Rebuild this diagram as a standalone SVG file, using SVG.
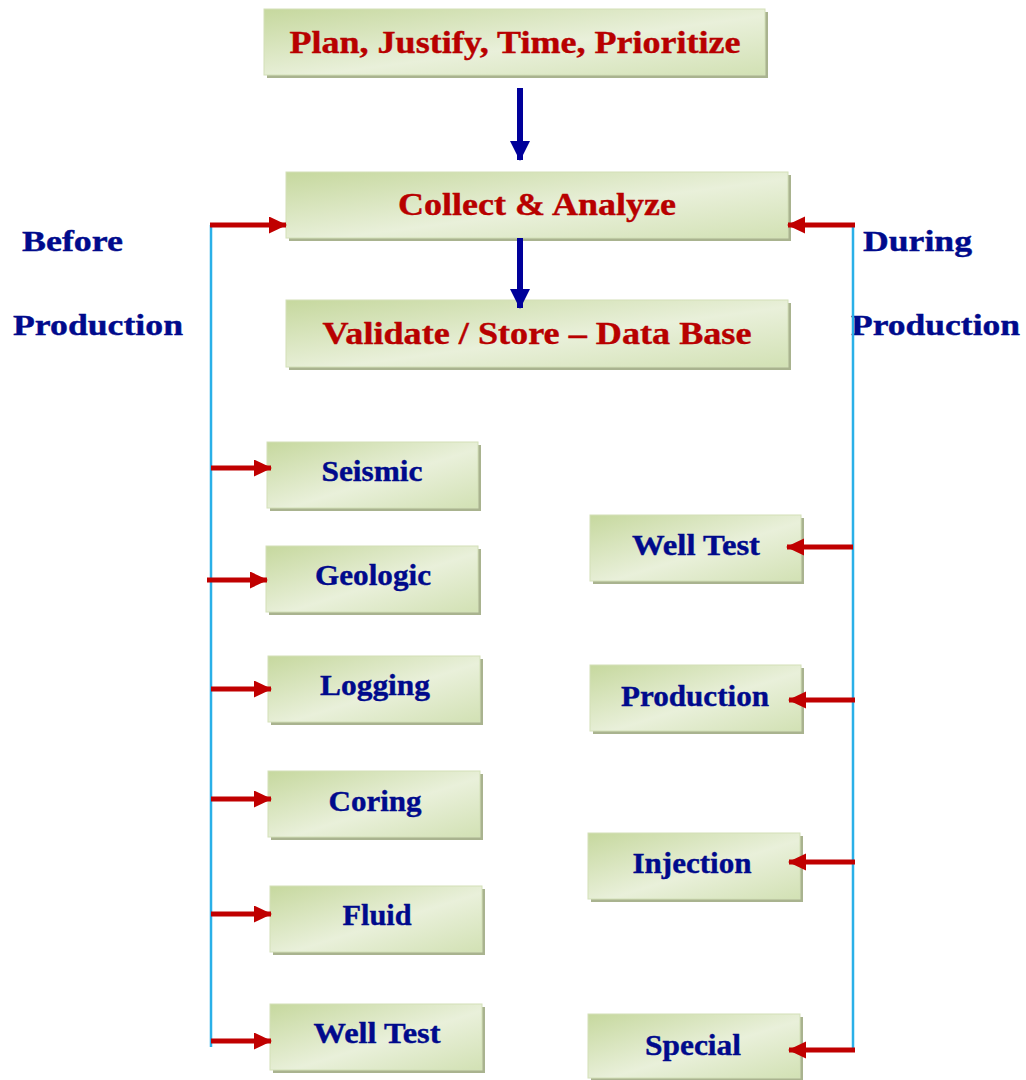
<svg xmlns="http://www.w3.org/2000/svg" width="1026" height="1080" viewBox="0 0 1026 1080">
<style>
.box{fill:url(#g);stroke:#d3e0b8;stroke-width:1}
.sh{fill:#a9b38f}
.t1{font-family:"Liberation Serif","Times New Roman",serif;font-weight:bold;font-size:32px;fill:#b80000;text-anchor:middle;stroke:#b80000;stroke-width:0.4}
.t2{font-family:"Liberation Serif","Times New Roman",serif;font-weight:bold;font-size:30px;fill:#000a8c;text-anchor:middle;stroke:#000a8c;stroke-width:0.4}
.lbl{font-family:"Liberation Serif","Times New Roman",serif;font-weight:bold;font-size:30px;fill:#000a8c;stroke:#000a8c;stroke-width:0.4}
.red{stroke:#c00000;stroke-width:5;fill:none;marker-end:url(#ra)}
.blue{stroke:#00009a;stroke-width:6;fill:none;marker-end:url(#ba)}
.cy{stroke:#2ab0e8;stroke-width:2.5;fill:none}
</style>
<defs>
<linearGradient id="g" x1="0" y1="0" x2="1" y2="1">
<stop offset="0" stop-color="#c6d89e"/>
<stop offset="0.55" stop-color="#e9f0da"/>
<stop offset="1" stop-color="#d2e1b4"/>
</linearGradient>
<marker id="ra" markerUnits="userSpaceOnUse" markerWidth="20" markerHeight="20" refX="17" refY="8.5" orient="auto"><path d="M0,0 L18,8.5 L0,17 Z" fill="#c00000"/></marker>
<marker id="ba" markerUnits="userSpaceOnUse" markerWidth="22" markerHeight="22" refX="19" refY="10" orient="auto"><path d="M0,0 L20,10 L0,20 Z" fill="#00009a"/></marker>
</defs>
<rect width="1026" height="1080" fill="#ffffff"/>
<g id="n-plan"><rect class="sh" x="267" y="12" width="501" height="66"/><rect class="box" x="264" y="9" width="501" height="66"/><text class="t1" x="515" y="53" textLength="451" lengthAdjust="spacingAndGlyphs">Plan, Justify, Time, Prioritize</text></g>
<g id="n-collect"><rect class="sh" x="289" y="175" width="502" height="66"/><rect class="box" x="286" y="172" width="502" height="66"/><text class="t1" x="537" y="215" textLength="278" lengthAdjust="spacingAndGlyphs">Collect &amp; Analyze</text></g>
<g id="n-validate"><rect class="sh" x="289" y="303" width="502" height="67"/><rect class="box" x="286" y="300" width="502" height="67"/><text class="t1" x="537" y="344" textLength="429" lengthAdjust="spacingAndGlyphs">Validate / Store – Data Base</text></g>
<g id="lbl-before"><text class="lbl" x="22" y="251" textLength="101" lengthAdjust="spacingAndGlyphs">Before</text><text class="lbl" x="13" y="335" textLength="170" lengthAdjust="spacingAndGlyphs">Production</text></g>
<g id="lbl-during"><text class="lbl" x="863" y="251" textLength="109" lengthAdjust="spacingAndGlyphs">During</text><text class="lbl" x="851" y="335" textLength="169" lengthAdjust="spacingAndGlyphs">Production</text></g>
<g id="n-seismic"><rect class="sh" x="270" y="445" width="211" height="66"/><rect class="box" x="267" y="442" width="211" height="66"/><text class="t2" x="372" y="481" textLength="101" lengthAdjust="spacingAndGlyphs">Seismic</text></g>
<g id="n-geologic"><rect class="sh" x="269" y="549" width="212" height="66"/><rect class="box" x="266" y="546" width="212" height="66"/><text class="t2" x="373" y="585" textLength="116" lengthAdjust="spacingAndGlyphs">Geologic</text></g>
<g id="n-logging"><rect class="sh" x="271" y="659" width="212" height="66"/><rect class="box" x="268" y="656" width="212" height="66"/><text class="t2" x="375" y="695" textLength="110" lengthAdjust="spacingAndGlyphs">Logging</text></g>
<g id="n-coring"><rect class="sh" x="271" y="774" width="212" height="66"/><rect class="box" x="268" y="771" width="212" height="66"/><text class="t2" x="375" y="811" textLength="93" lengthAdjust="spacingAndGlyphs">Coring</text></g>
<g id="n-fluid"><rect class="sh" x="273" y="889" width="212" height="66"/><rect class="box" x="270" y="886" width="212" height="66"/><text class="t2" x="377" y="925" textLength="69" lengthAdjust="spacingAndGlyphs">Fluid</text></g>
<g id="n-welltest-l"><rect class="sh" x="273" y="1007" width="212" height="66"/><rect class="box" x="270" y="1004" width="212" height="66"/><text class="t2" x="377" y="1043" textLength="127" lengthAdjust="spacingAndGlyphs">Well Test</text></g>
<g id="n-welltest-r"><rect class="sh" x="593" y="518" width="211" height="66"/><rect class="box" x="590" y="515" width="211" height="66"/><text class="t2" x="696" y="555" textLength="128" lengthAdjust="spacingAndGlyphs">Well Test</text></g>
<g id="n-production"><rect class="sh" x="593" y="668" width="211" height="66"/><rect class="box" x="590" y="665" width="211" height="66"/><text class="t2" x="695" y="706" textLength="148" lengthAdjust="spacingAndGlyphs">Production</text></g>
<g id="n-injection"><rect class="sh" x="591" y="836" width="212" height="66"/><rect class="box" x="588" y="833" width="212" height="66"/><text class="t2" x="692" y="873" textLength="119" lengthAdjust="spacingAndGlyphs">Injection</text></g>
<g id="n-special"><rect class="sh" x="591" y="1017" width="212" height="65"/><rect class="box" x="588" y="1014" width="212" height="64"/><text class="t2" x="693" y="1055" textLength="96" lengthAdjust="spacingAndGlyphs">Special</text></g>
<g id="connectors">
<line class="cy" x1="211" y1="225" x2="211" y2="1047"/>
<line class="cy" x1="853" y1="225" x2="853" y2="1050"/>
<line class="blue" x1="520" y1="88" x2="520" y2="160"/>
<line class="blue" x1="520" y1="238" x2="520" y2="308"/>
<line class="red" x1="210" y1="225" x2="286" y2="225"/>
<line class="red" x1="855" y1="225" x2="788" y2="225"/>
<line class="red" x1="211" y1="468" x2="271" y2="468"/>
<line class="red" x1="207" y1="580" x2="267" y2="580"/>
<line class="red" x1="211" y1="689" x2="271" y2="689"/>
<line class="red" x1="211" y1="799" x2="271" y2="799"/>
<line class="red" x1="211" y1="914" x2="271" y2="914"/>
<line class="red" x1="211" y1="1041" x2="271" y2="1041"/>
<line class="red" x1="853" y1="547" x2="787" y2="547"/>
<line class="red" x1="855" y1="700" x2="789" y2="700"/>
<line class="red" x1="855" y1="862" x2="789" y2="862"/>
<line class="red" x1="855" y1="1050" x2="789" y2="1050"/>
</g>
</svg>
